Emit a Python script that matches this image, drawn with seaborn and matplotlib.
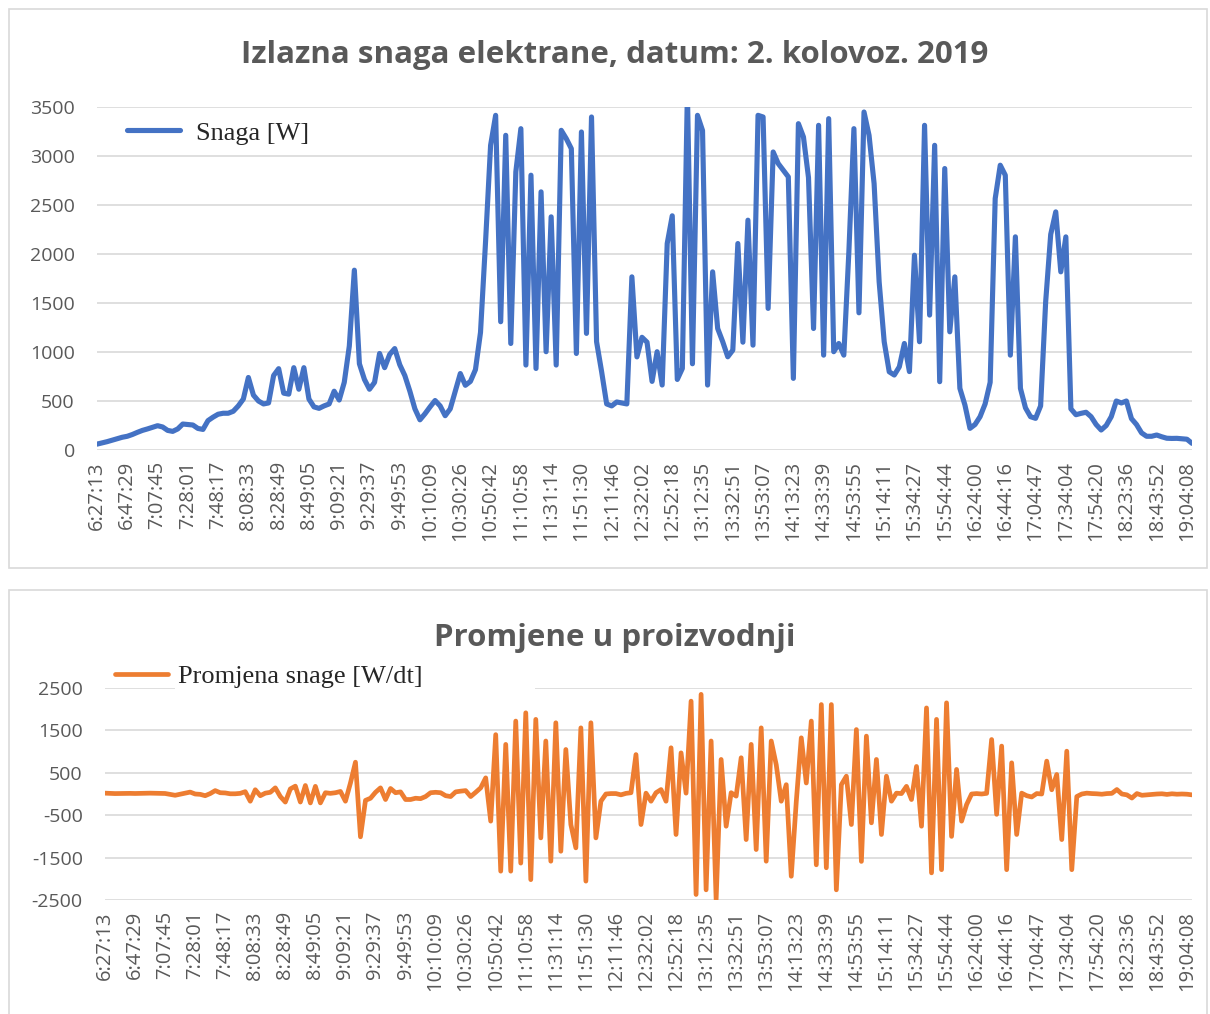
import numpy as np
import pandas as pd
import matplotlib
matplotlib.use("Agg")
import matplotlib.pyplot as plt
from matplotlib.patches import Rectangle
import seaborn as sns

# x axis: one label every 6 samples
tick_labels = ["6:27:13", "6:47:29", "7:07:45", "7:28:01", "7:48:17", "8:08:33",
               "8:28:49", "8:49:05", "9:09:21", "9:29:37", "9:49:53", "10:10:09",
               "10:30:26", "10:50:42", "11:10:58", "11:31:14", "11:51:30", "12:11:46",
               "12:32:02", "12:52:18", "13:12:35", "13:32:51", "13:53:07", "14:13:23",
               "14:33:39", "14:53:55", "15:14:11", "15:34:27", "15:54:44", "16:24:00",
               "16:44:16", "17:04:47", "17:34:04", "17:54:20", "18:23:36", "18:43:52",
               "19:04:08"]
step = 6

# output power [W]
snaga = [60, 72, 85, 100, 115, 130, 140, 158, 180, 200,
         215, 232, 248, 235, 200, 190, 215, 265, 260, 255,
         220, 210, 300, 335, 365, 375, 375, 395, 450, 520,
         740, 560, 500, 470, 480, 760, 830, 580, 570, 840,
         620, 840, 520, 440, 425, 450, 470, 600, 510, 690,
         1060, 1835, 880, 720, 620, 690, 985, 840, 975, 1035,
         870, 760, 600, 420, 308, 370, 440, 505, 450, 350,
         420, 600, 780, 660, 700, 820, 1200, 2124, 3109, 3415,
         1309, 3211, 1087, 2838, 3279, 867, 2804, 832, 2634, 1003,
         2379, 867, 3262, 3177, 3075, 985, 3245, 1190, 3398, 1105,
         800, 470, 450, 490, 480, 470, 1767, 950, 1150, 1100,
         700, 1003, 663, 2107, 2390, 720, 832, 3650, 880, 3415,
         3260, 663, 1818, 1240, 1105, 951, 1019, 2107, 1100, 2345,
         1070, 3415, 3398, 1445, 3041, 2923, 2855, 2787, 731, 3330,
         3194, 2780, 1240, 3313, 968, 3381, 1003, 1087, 968, 2022,
         3279, 1400, 3449, 3211, 2719, 1716, 1105, 798, 765, 849,
         1087, 800, 1988, 1105, 3313, 1377, 3109, 697, 2872, 1206,
         1767, 629, 459, 221, 260, 340, 470, 690, 2566, 2906,
         2804, 968, 2175, 629, 430, 340, 323, 450, 1512, 2200,
         2430, 1818, 2175, 420, 360, 374, 385, 340, 260, 204,
         250, 340, 500, 480, 500, 320, 260, 175, 140, 140,
         153, 135, 120, 118, 119, 115, 110, 68]

# change in power [W/dt]
promjena = [20, 15, 10, 12, 15, 15, 12, 15, 18, 20,
            18, 15, 12, -10, -30, -5, 20, 45, 0, -8,
            -40, 10, 80, 30, 25, 5, 5, 15, 55, -170,
            100, -40, 20, 40, 145, -60, -190, 120, 185, -190,
            200, -210, 180, -210, 30, 15, 30, 60, -170, 260,
            750, -1010, -150, -100, 40, 145, -130, 130, 30, 50,
            -130, -130, -100, -110, -60, 30, 40, 30, -40, -60,
            50, 67, 80, -60, 40, 145, 380, -640, 1400, -1820,
            1170, -1820, 1720, -1630, 1915, -2020, 1760, -1035, 1250, -1585,
            1680, -1350, 1050, -720, -1270, 1560, -2055, 1680, -1035, -170,
            0, 10, 10, -20, 15, 30, 930, -720, 20, -170,
            30, 105, -170, 1090, -955, 970, 20, 2190, -2370, 2350,
            -2260, 1250, -2490, 815, -760, 30, -50, 855, -1075, 1170,
            -1310, 1560, -1585, 1250, 690, -170, 220, -1940, -180, 1325,
            260, 1720, -1670, 2110, -1740, 2110, -2260, 220, 420, -720,
            1520, -1590, 1365, -680, 815, -955, 420, -170, 20, 10,
            180, -130, 650, -760, 2030, -1860, 1760, -1785, 2150, -1000,
            580, -640, -250, 0, 10, 0, 15, 1285, -480, 1130,
            -1785, 735, -955, 20, -40, -70, 10, 0, 775, 100,
            460, -1075, 1010, -1785, -60, 0, 20, 10, 5, -5,
            10, 15, 105, 0, -20, -95, 10, -30, -20, -10,
            0, 5, -10, 5, -5, 0, -5, -20]

sns.set_style("white")
plt.rcParams["font.family"] = ["Open Sans", "DejaVu Sans"]
plt.rcParams["axes.unicode_minus"] = False

df = pd.DataFrame({"idx": np.arange(len(snaga)), "snaga": snaga, "promjena": promjena})

W, H = 1210, 1014
fig = plt.figure(figsize=(W / 100, H / 100), dpi=100)


def px_box(x0, y0, x1, y1):
    # pixel box (top-left origin) -> figure fraction [l, b, w, h]
    return [x0 / W, 1 - y1 / H, (x1 - x0) / W, (y1 - y0) / H]


grey = "#595959"
grid_c = "#d9d9d9"

# chart frames
for y0, y1 in [(9, 568), (590, 1020)]:
    fig.add_artist(Rectangle((9 / W, 1 - y1 / H), 1198 / W, (y1 - y0) / H,
                             transform=fig.transFigure, fill=False,
                             edgecolor=grid_c, linewidth=1.2))

ax1 = fig.add_axes(px_box(97, 107, 1192, 450))
ax2 = fig.add_axes(px_box(105, 688, 1192, 900))

sns.lineplot(data=df, x="idx", y="snaga", ax=ax1, color="#4472c4", linewidth=3.7,
             label="Snaga [W]", solid_joinstyle="round", solid_capstyle="round")
sns.lineplot(data=df, x="idx", y="promjena", ax=ax2, color="#ed7d31", linewidth=3.4,
             label="Promjena snage [W/dt]", solid_joinstyle="round", solid_capstyle="round")

ax1.set_ylim(0, 3500)
ax1.set_yticks(np.arange(0, 3501, 500))
ax2.set_ylim(-2500, 2500)
ax2.set_yticks(np.arange(-2500, 2501, 1000))

for ax in (ax1, ax2):
    ax.set_xlim(0, len(snaga) - 1)
    ax.set_xticks(df["idx"][::step])
    ax.set_xticklabels(tick_labels, rotation=90)
    ax.set_xlabel("")
    ax.set_ylabel("")
    ax.grid(axis="y", color=grid_c, linewidth=1.2)
    ax.set_axisbelow(True)
    for s in ax.spines.values():
        s.set_visible(False)
    ax.tick_params(axis="x", length=0, pad=8, labelsize=14.5, labelcolor=grey)
    ax.tick_params(axis="y", length=0, pad=16, labelsize=14, labelcolor=grey)

leg_font = {"family": "Liberation Serif", "size": 19}
ax1.legend(loc="center left", bbox_to_anchor=(127 / W, 1 - 133 / H),
           bbox_transform=fig.transFigure, frameon=False, prop=leg_font,
           borderpad=0, borderaxespad=0, handlelength=2.0, handletextpad=0.6)

# white legend box that hides part of the top gridline
ax2.add_patch(Rectangle((175 / W, 1 - 691 / H), 360 / W, 28 / H,
                        transform=fig.transFigure, facecolor="white",
                        edgecolor="none", zorder=3, clip_on=False))
leg2 = ax2.legend(loc="center left", bbox_to_anchor=(115 / W, 1 - 676 / H),
                  bbox_transform=fig.transFigure, frameon=False, prop=leg_font,
                  borderpad=0, borderaxespad=0, handlelength=2.0, handletextpad=0.4)
leg2.set_zorder(5)

fig.text(615 / W, 1 - 63 / H, "Izlazna snaga elektrane, datum: 2. kolovoz. 2019",
         ha="center", va="baseline", fontsize=22.5, fontweight="bold", color=grey)
fig.text(615 / W, 1 - 646 / H, "Promjene u proizvodnji",
         ha="center", va="baseline", fontsize=22.5, fontweight="bold", color=grey)

fig.savefig("out.png", dpi=100)
